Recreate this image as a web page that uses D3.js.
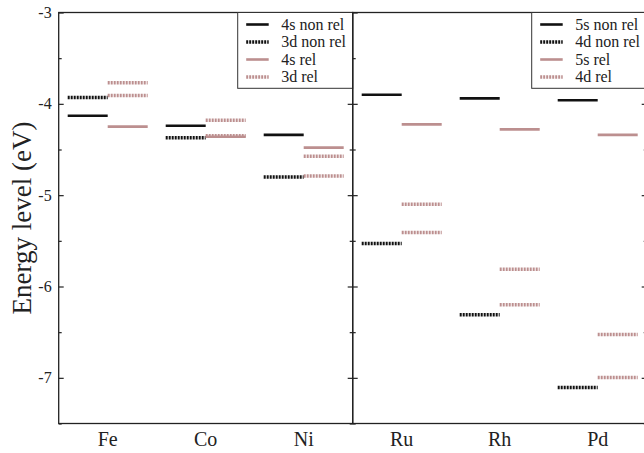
<!DOCTYPE html>
<html>
<head>
    <script src="https://d3js.org/d3.v7.min.js"></script>
    <style>
        body { margin: 0; background: #fff; }
        text { font-family: 'Liberation Serif', 'Times New Roman', serif; fill: #222; }
    </style>
</head>
<body>
<script>
// elements, one panel each row
const panelElems = [['Fe', 'Co', 'Ni'], ['Ru', 'Rh', 'Pd']];
const legendLabels = [
    ['4s non rel', '3d non rel', '4s rel', '3d rel'],
    ['5s non rel', '4d non rel', '5s rel', '4d rel']
];

// energy levels (eV), order Fe Co Ni Ru Rh Pd
const sNonRel = [-4.13, -4.24, -4.34, -3.90, -3.94, -3.96];
const dNonRel = [-3.93, -4.37, -4.80, -5.53, -6.31, -7.105];
const sRel    = [-4.25, -4.36, -4.48, -4.225, -4.28, -4.34];
const dRel1   = [-3.77, -4.18, -4.575, -5.10, -5.81, -6.525];
const dRel2   = [-3.91, -4.35, -4.79, -5.41, -6.20, -6.995];

const majorTicks = [-7, -6, -5, -4, -3];
const minorTicks = [-7.5, -6.5, -5.5, -4.5, -3.5];

const width = 644, height = 453;
const plotTop = 12.5, plotBottom = 423.5;
const panelX = [[58.7, 352.7], [352.7, 646.7]];

const black = '#111';
const rosy = '#bc8f8f';

const svg = d3.select('body').append('svg')
    .attr('width', width)
    .attr('height', height);

const y = d3.scaleLinear()
    .domain([-7.5, -3])
    .range([plotBottom, plotTop]);

// one series per level kind
const series = [
    {values: sNonRel, kind: 'non', color: black, dash: null},
    {values: dNonRel, kind: 'non', color: black, dash: '2,1'},
    {values: sRel, kind: 'rel', color: rosy, dash: null},
    {values: dRel1, kind: 'rel', color: rosy, dash: '2,1'},
    {values: dRel2, kind: 'rel', color: rosy, dash: '2,1'}
];

panelElems.forEach((elems, p) => {
    const [x0, x1] = panelX[p];
    const x = d3.scaleBand().domain(elems).range([x0, x1]);
    const sub = d3.scaleBand().domain(['non', 'rel'])
        .range([0, x.bandwidth()])
        .paddingInner(0).paddingOuter(0.225);

    // axes, ticks inward on both sides
    const axes = [
        {gen: d3.axisLeft, pos: x0, lab: p === 0},
        {gen: d3.axisRight, pos: x1, lab: false}
    ];
    axes.forEach(a => {
        const major = svg.append('g')
            .attr('transform', `translate(${a.pos},0)`)
            .call(a.gen(y).tickValues(majorTicks).tickSize(-5).tickPadding(7)
                .tickFormat(a.lab ? (d => String(d)) : ''));
        const minor = svg.append('g')
            .attr('transform', `translate(${a.pos},0)`)
            .call(a.gen(y).tickValues(minorTicks).tickSize(-3).tickFormat(''));
        [major, minor].forEach(g => {
            g.select('.domain').remove();
            g.selectAll('line').attr('stroke', '#222').attr('stroke-width', 1.2);
        });
        major.selectAll('text').style('font-size', '16px');
    });

    // category labels
    const bx = svg.append('g')
        .attr('transform', `translate(0,${plotBottom})`)
        .call(d3.axisBottom(x).tickSize(0).tickPadding(8));
    bx.select('.domain').remove();
    bx.selectAll('text').style('font-size', '20px');

    // level bars
    series.forEach(s => {
        svg.append('g')
            .selectAll('line')
            .data(elems.map((e, i) => ({e: e, v: s.values[p * 3 + i]})))
            .join('line')
            .attr('x1', d => x(d.e) + sub(s.kind))
            .attr('x2', d => x(d.e) + sub(s.kind) + sub.bandwidth())
            .attr('y1', d => y(d.v))
            .attr('y2', d => y(d.v))
            .attr('stroke', s.color)
            .attr('stroke-width', s.dash ? 3.5 : 2.6)
            .attr('stroke-dasharray', s.dash);
    });

    // frame
    svg.append('rect')
        .attr('x', x0).attr('y', plotTop)
        .attr('width', x1 - x0).attr('height', plotBottom - plotTop)
        .attr('fill', 'none')
        .attr('stroke', '#222')
        .attr('stroke-width', 1.3);

    // legend
    const lx = x1 - 115;
    const leg = svg.append('g');
    leg.append('rect')
        .attr('x', lx).attr('y', plotTop)
        .attr('width', x1 - lx).attr('height', 88.3 - plotTop)
        .attr('fill', '#fff')
        .attr('stroke', '#333')
        .attr('stroke-width', 1);
    const rows = legendLabels[p].map((t, i) => ({t: t, s: series[i]}));
    const ly = d3.scalePoint().domain(d3.range(4)).range([24.5, 77]);
    rows.forEach((r, i) => {
        leg.append('line')
            .attr('x1', lx + 8.5).attr('x2', lx + 31)
            .attr('y1', ly(i)).attr('y2', ly(i))
            .attr('stroke', r.s.color)
            .attr('stroke-width', r.s.dash ? 3.5 : 2.6)
            .attr('stroke-dasharray', r.s.dash);
        leg.append('text')
            .attr('x', lx + 43.5).attr('y', ly(i))
            .attr('dy', '0.33em')
            .style('font-size', '16px')
            .text(r.t);
    });
});

// y title
svg.append('text')
    .attr('transform', `translate(31,${(plotTop + plotBottom) / 2}) rotate(-90)`)
    .attr('text-anchor', 'middle')
    .style('font-size', '27px')
    .text('Energy level (eV)');
</script>
</body>
</html>
